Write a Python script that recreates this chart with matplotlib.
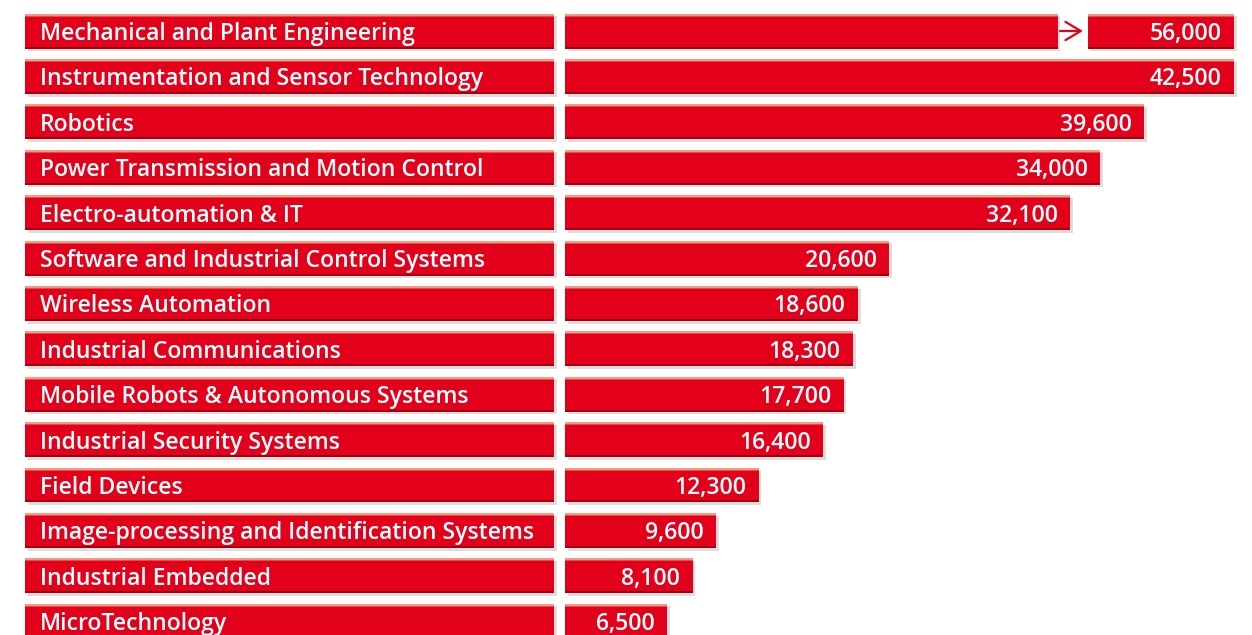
import matplotlib
matplotlib.use("Agg")
import matplotlib.pyplot as plt
from matplotlib import patheffects as pe

categories = [
    "Mechanical and Plant Engineering",
    "Instrumentation and Sensor Technology",
    "Robotics",
    "Power Transmission and Motion Control",
    "Electro-automation & IT",
    "Software and Industrial Control Systems",
    "Wireless Automation",
    "Industrial Communications",
    "Mobile Robots & Autonomous Systems",
    "Industrial Security Systems",
    "Field Devices",
    "Image-processing and Identification Systems",
    "Industrial Embedded",
    "MicroTechnology",
]
values = [56000, 42500, 39600, 34000, 32100, 20600, 18600, 18300,
          17700, 16400, 12300, 9600, 8100, 6500]
# bar lengths as drawn in the source (Robotics bar is shorter than its label)
bar_lengths = [56000, 42500, 36800, 34000, 32100, 20600, 18600, 18300,
               17700, 16400, 12300, 9600, 8100, 6500]

RED = "#e2001a"
LIGHT = "#f29c86"
DARK = "#a3000f"
W, H = 1252, 635
PITCH = 45.4  # px per row
BAR_H = 35 / PITCH
PX = 1 / PITCH

# broken first bar (axis is cut at 42,500)
x_max = 42500
break_at = 31300
box_start = 33200

fig = plt.figure(figsize=(W / 100, H / 100), dpi=100)
ylim = (-31 / PITCH + H / PITCH, -31 / PITCH)

ax_lab = fig.add_axes([25 / W, 0, 529 / W, 1])
ax_val = fig.add_axes([565 / W, 0, 669 / W, 1])
for ax in (ax_lab, ax_val):
    ax.set_ylim(*ylim)
    ax.axis("off")
ax_lab.set_xlim(0, 1)
ax_val.set_xlim(0, x_max)

shadow = [pe.SimplePatchShadow(offset=(2, -2), shadow_rgbFace="#909090", alpha=0.3),
          pe.Normal()]


def fancy_bar(ax, y, left, width):
    ax.barh(y, width, left=left, height=BAR_H, color=RED, linewidth=0,
            path_effects=shadow, clip_on=False)
    top = y - BAR_H / 2
    bot = y + BAR_H / 2
    ax.barh(top + 1 * PX, width, left=left, height=2 * PX, color=LIGHT,
            linewidth=0, clip_on=False)
    ax.barh(top + 2.5 * PX, width, left=left, height=1 * PX, color="#ea4a40",
            linewidth=0, clip_on=False)
    ax.barh(bot - 1 * PX, width, left=left, height=2 * PX, color=DARK,
            linewidth=0, clip_on=False)


font = dict(family=["Open Sans", "DejaVu Sans"], weight="semibold", size=16.6,
            color="white")

for i, (cat, val, length) in enumerate(zip(categories, values, bar_lengths)):
    fancy_bar(ax_lab, i, 0, 1)
    ax_lab.text(15 / 529, i + 3 * PX, cat, ha="left", va="center", **font)

    if length > x_max:
        fancy_bar(ax_val, i, 0, break_at)
        fancy_bar(ax_val, i, box_start, x_max - box_start)
        ax_val.annotate("", xy=(box_start - 300, i), xytext=(break_at + 150, i),
                        arrowprops=dict(arrowstyle="->,head_length=0.5,head_width=0.3",
                                        color=RED, lw=1.6, mutation_scale=22,
                                        shrinkA=0, shrinkB=0))
        end = x_max
    else:
        fancy_bar(ax_val, i, 0, length)
        end = length
    ax_val.annotate(f"{val:,}", xy=(end, i + 3 * PX), xytext=(-9, 0),
                    textcoords="offset points", ha="right", va="center", **font)

fig.savefig("out.png", dpi=100, facecolor="white")
